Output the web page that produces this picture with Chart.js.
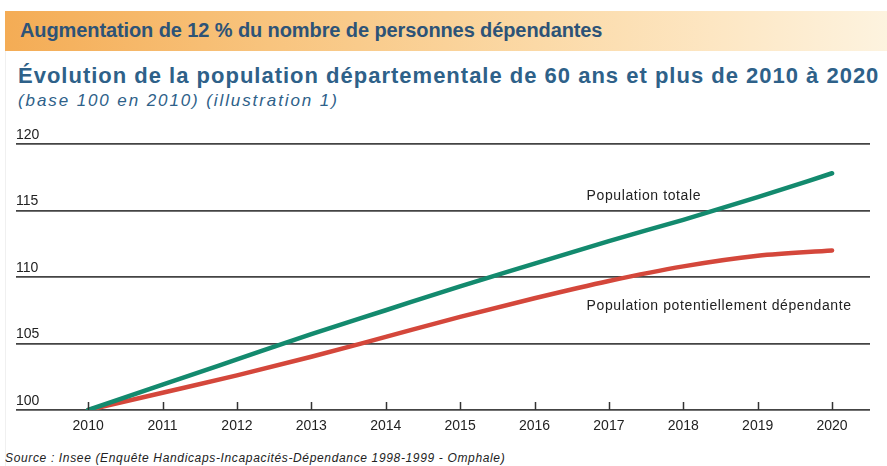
<!DOCTYPE html>
<html lang="fr">
<head>
<meta charset="utf-8">
<title>Évolution de la population départementale de 60 ans et plus</title>
<script src="https://cdn.jsdelivr.net/npm/chart.js@4/dist/chart.umd.min.js"></script>
<style>
  html, body { margin: 0; padding: 0; background: #fff; }
  body { width: 887px; height: 466px; position: relative; overflow: hidden; font-family: Arial, "Liberation Sans", sans-serif; }
  .edge { position: absolute; left: 5px; top: 51px; width: 1px; height: 415px; background: #f0f0f0; }
  .bandeau {
    position: absolute; left: 5px; top: 11px; width: 882px; height: 40px;
    background: linear-gradient(to right, #f4ac55 0%, #f8c47e 30%, #fbd9a6 60%, #fde6c2 80%, #fdf3df 100%);
  }
  .bandeau span {
    position: absolute; left: 15px; top: 8px; font-size: 20px; font-weight: bold;
    color: #2d5377; letter-spacing: -0.1px; white-space: nowrap;
  }
  .titre {
    position: absolute; left: 18px; top: 63px; font-size: 22px; font-weight: bold;
    color: #2e6189; letter-spacing: 1px; white-space: nowrap;
  }
  .sous-titre {
    position: absolute; left: 18px; top: 91px; font-size: 17px; font-style: italic;
    color: #2e6189; letter-spacing: 1.9px; white-space: nowrap;
  }
  .source {
    position: absolute; left: 5px; top: 451px; font-size: 12px; font-style: italic;
    color: #222; white-space: nowrap; letter-spacing: 0.65px;
  }
  #wrap { position: absolute; left: 0; top: 115px; width: 887px; height: 325px; }
</style>
</head>
<body>
<div class="edge"></div>
<div class="bandeau"><span>Augmentation de 12 % du nombre de personnes dépendantes</span></div>
<div class="titre">Évolution de la population départementale de 60 ans et plus de 2010 à 2020</div>
<div class="sous-titre">(base 100 en 2010) (illustration 1)</div>
<div id="wrap"><canvas id="chart" width="887" height="325"></canvas></div>
<div class="source">Source : Insee (Enquête Handicaps-Incapacités-Dépendance 1998-1999 - Omphale)</div>

<script>
// Données (base 100 en 2010)
const years = [2010, 2011, 2012, 2013, 2014, 2015, 2016, 2017, 2018, 2019, 2020];
const populationTotale = [100, 101.9, 103.8, 105.7, 107.5, 109.3, 111.0, 112.7, 114.3, 116.0, 117.8];
const populationDependante = [100, 101.3, 102.6, 104.0, 105.5, 107.0, 108.4, 109.7, 110.8, 111.6, 112.0];
const yTicks = [100, 105, 110, 115, 120];

const seriesLabels = [
    { text: 'Population totale', x: 2016.7, y: 116.1 },
    { text: 'Population potentiellement dépendante', x: 2016.7, y: 107.8 }
];

const toPoints = values => values.map((v, i) => ({ x: years[i], y: v }));

// petits traits verticaux au-dessus de l'axe + libellés des courbes
const decorPlugin = {
    id: 'decor',
    afterDraw(chart) {
        const { ctx, scales: { x, y } } = chart;
        const base = y.getPixelForValue(100);
        ctx.save();
        ctx.strokeStyle = '#333';
        ctx.lineWidth = 1.5;
        years.forEach(yr => {
            const px = Math.round(x.getPixelForValue(yr)) + 0.5;
            ctx.beginPath();
            ctx.moveTo(px, base);
            ctx.lineTo(px, base - 8);
            ctx.stroke();
        });

        ctx.fillStyle = '#222';
        ctx.font = '14px Arial, "Liberation Sans", sans-serif';
        ctx.letterSpacing = '0.6px';
        ctx.textBaseline = 'middle';
        ctx.textAlign = 'left';
        seriesLabels.forEach(l => {
            ctx.fillText(l.text, x.getPixelForValue(l.x), y.getPixelForValue(l.y));
        });
        ctx.restore();
    }
};

const ctx = document.getElementById('chart').getContext('2d');
new Chart(ctx, {
    type: 'line',
    data: {
        datasets: [
            {
                label: 'Population totale',
                data: toPoints(populationTotale),
                borderColor: '#138a6e',
                borderWidth: 4.5,
                borderCapStyle: 'round',
                cubicInterpolationMode: 'monotone',
                pointRadius: 0
            },
            {
                label: 'Population potentiellement dépendante',
                data: toPoints(populationDependante),
                borderColor: '#d4473b',
                borderWidth: 4.5,
                borderCapStyle: 'round',
                cubicInterpolationMode: 'monotone',
                pointRadius: 0
            }
        ]
    },
    options: {
        responsive: false,
        animation: false,
        layout: { padding: { left: 16, right: 17, top: 29, bottom: 0 } },
        plugins: {
            legend: { display: false },
            tooltip: { enabled: false }
        },
        scales: {
            x: {
                type: 'linear',
                min: 2009.03,
                max: 2020.51,
                afterBuildTicks: scale => { scale.ticks = years.map(v => ({ value: v })); },
                afterFit: scale => { scale.height = 30; },
                grid: { display: false },
                border: { display: false },
                ticks: {
                    padding: 0,
                    color: '#222',
                    font: { size: 14, family: 'Arial, "Liberation Sans", sans-serif' },
                    maxRotation: 0,
                    callback: v => String(v)
                }
            },
            y: {
                min: 100,
                max: 120,
                afterBuildTicks: scale => { scale.ticks = yTicks.map(v => ({ value: v })); },
                afterFit: scale => { scale.width = 0; },
                grid: { color: '#444', lineWidth: 1.8, drawTicks: false },
                border: { display: false },
                ticks: {
                    mirror: true,
                    padding: 0,
                    labelOffset: -9,
                    color: '#222',
                    font: { size: 14, family: 'Arial, "Liberation Sans", sans-serif' }
                }
            }
        }
    },
    plugins: [decorPlugin]
});
</script>
</body>
</html>
